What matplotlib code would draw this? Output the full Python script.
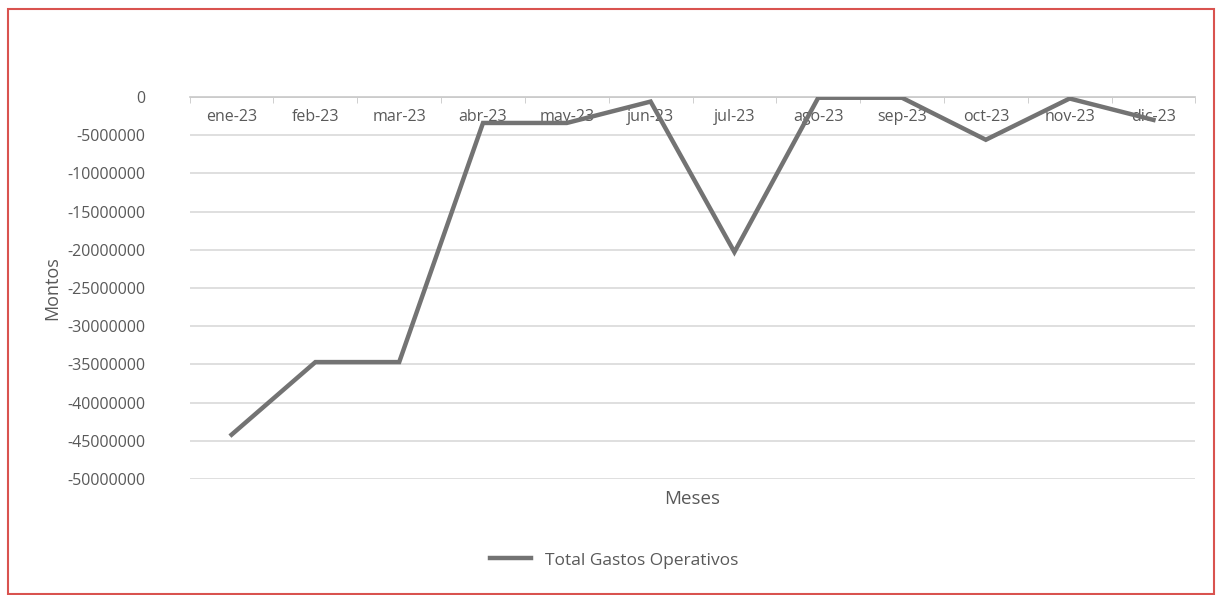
import matplotlib
matplotlib.use("Agg")
import matplotlib.pyplot as plt
from matplotlib.patches import Rectangle
from matplotlib.ticker import FixedLocator

# data
meses = ["ene-23", "feb-23", "mar-23", "abr-23", "may-23", "jun-23",
         "jul-23", "ago-23", "sep-23", "oct-23", "nov-23", "dic-23"]
gastos = [-44200000, -34700000, -34700000, -3400000, -3400000, -600000,
          -20300000, -100000, -100000, -5600000, -200000, -3000000]
y_ticks = [0, -5000000, -10000000, -15000000, -20000000, -25000000,
           -30000000, -35000000, -40000000, -45000000, -50000000]

plt.rcParams["font.family"] = ["Open Sans", "DejaVu Sans"]
TXT = "#595959"

fig = plt.figure(figsize=(12.16, 5.95), dpi=100)
ax = fig.add_axes([0.156, 0.195, 0.827, 0.642])

x = list(range(len(meses)))
ax.plot(x, gastos, color="#737373", lw=3.2, solid_joinstyle="miter",
        label="Total Gastos Operativos", zorder=3)

ax.set_xlim(-0.5, len(meses) - 0.5)
ax.set_ylim(-50000000, 0)
ax.set_yticks(y_ticks)
ax.set_yticklabels([str(v) for v in y_ticks])
ax.yaxis.grid(True, color="#d9d9d9", lw=1.2)
ax.set_axisbelow(True)

# category axis crosses at 0 (top of the plot), labels hang below it
ax.spines["bottom"].set_position(("data", 0))
ax.spines["bottom"].set_color("#c8c8c8")
ax.spines["bottom"].set_linewidth(1.2)
for s in ("left", "right", "top"):
    ax.spines[s].set_visible(False)
ax.set_xticks(x)
ax.set_xticklabels(meses)
ax.xaxis.set_minor_locator(FixedLocator([i - 0.5 for i in range(len(meses) + 1)]))
ax.tick_params(axis="x", which="major", length=0, pad=9, labelsize=11.5, labelcolor=TXT)
ax.tick_params(axis="x", which="minor", length=4, color="#c8c8c8")
ax.tick_params(axis="y", length=0, pad=32, labelsize=11.5, labelcolor=TXT)

ax.set_ylabel("Montos", fontsize=13, color=TXT)
ax.yaxis.set_label_coords(-0.128, 0.5)
ax.set_xlabel("Meses", fontsize=13.5, color=TXT)
ax.xaxis.set_label_coords(0.5, -0.03)
ax.xaxis.label.set_verticalalignment("top")

fig.legend(loc="center", bbox_to_anchor=(0.505, 0.058), frameon=False,
           fontsize=12.5, labelcolor=TXT, handlelength=2.4, handletextpad=0.8)

# red frame around the chart
fig.patches.append(Rectangle((8 / 1216, 1 / 595), 1206 / 1216, 585 / 595,
                             transform=fig.transFigure, fill=False,
                             edgecolor="#d9534f", lw=1.5))

fig.savefig("out.png", dpi=100)
